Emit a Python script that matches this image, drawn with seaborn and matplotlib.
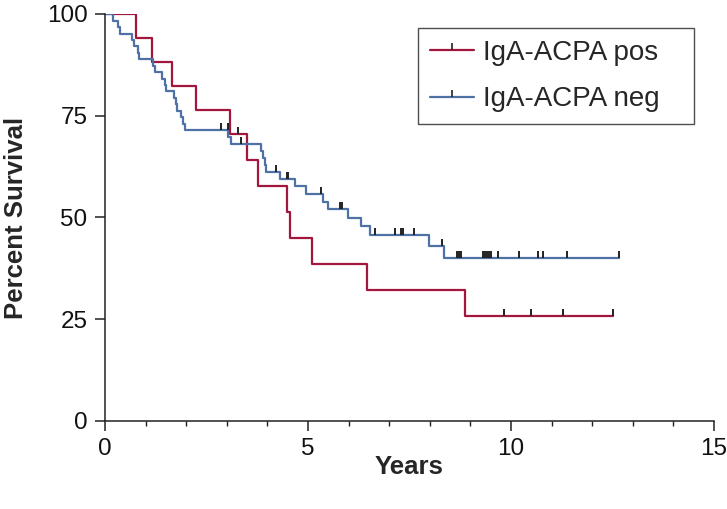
import numpy as np
import pandas as pd
import seaborn as sns
import matplotlib.pyplot as plt
from matplotlib.lines import Line2D
from matplotlib.path import Path

# Kaplan-Meier steps (years, percent surviving after the drop)
pos_times = [0.0, 0.77, 1.16, 1.64, 2.25, 3.07, 3.49, 3.78, 4.49, 4.56, 5.10, 6.45, 8.87, 12.52]
pos_surv = [100.0, 94.1, 88.2, 82.4, 76.5, 70.6, 64.2, 57.8, 51.4, 45.0, 38.6, 32.1, 25.7, 25.7]
pos_censored = [3.28, 9.82, 10.50, 11.28, 12.52]

neg_times = [0.0, 0.19, 0.33, 0.37, 0.67, 0.71, 0.81, 0.85, 1.19, 1.22, 1.41, 1.47, 1.51,
             1.69, 1.74, 1.77, 1.88, 1.92, 1.96, 3.03, 3.11, 3.85, 3.89, 3.93, 3.97, 4.30,
             4.67, 4.96, 5.38, 5.49, 5.99, 6.30, 6.52, 7.98, 8.35, 12.65]
neg_surv = [100.0, 98.4, 96.8, 95.2, 93.7, 92.1, 90.5, 88.9, 87.3, 85.7, 84.1, 82.5, 81.0,
            79.4, 77.8, 76.2, 74.6, 73.0, 71.4, 69.8, 68.1, 66.4, 64.7, 63.0, 61.3, 59.5,
            57.7, 55.8, 53.9, 52.0, 49.9, 47.8, 45.7, 43.0, 40.1, 40.1]
neg_censored = [2.85, 3.02, 3.34, 4.22, 4.49, 4.51, 5.33, 5.80, 5.83, 6.64, 7.14, 7.30,
                7.33, 7.62, 8.29, 8.67, 8.72, 8.77, 9.30, 9.35, 9.40, 9.45, 9.50, 9.67,
                10.20, 10.67, 10.79, 11.37, 12.65]

groups = ['IgA-ACPA pos', 'IgA-ACPA neg']
colors = {'IgA-ACPA pos': '#A3173F', 'IgA-ACPA neg': '#4E72A6'}


def censor_levels(times, surv, cens):
    idx = np.searchsorted(times, cens, side='right') - 1
    return [surv[i] for i in idx]


curves = pd.concat([
    pd.DataFrame({'Years': pos_times, 'Survival': pos_surv, 'group': groups[0]}),
    pd.DataFrame({'Years': neg_times, 'Survival': neg_surv, 'group': groups[1]}),
])
marks = pd.concat([
    pd.DataFrame({'Years': pos_censored,
                  'Survival': censor_levels(pos_times, pos_surv, pos_censored)}),
    pd.DataFrame({'Years': neg_censored,
                  'Survival': censor_levels(neg_times, neg_surv, neg_censored)}),
])

sns.set_style('ticks')
plt.rcParams['font.family'] = ['Liberation Sans', 'DejaVu Sans']

fig = plt.figure(figsize=(7.27, 5.09), dpi=100)
ax = fig.add_axes([0.1444, 0.1729, 0.8377, 0.7996])

# censor mark: short stroke standing on top of the curve
tick = Path([(0, 0), (0, 1)], [Path.MOVETO, Path.LINETO])

for g in groups:
    sub = curves[curves['group'] == g]
    sns.lineplot(data=sub, x='Years', y='Survival', ax=ax, color=colors[g],
                 drawstyle='steps-post', linewidth=1.6, estimator=None, sort=False,
                 legend=False)

sns.scatterplot(data=marks, x='Years', y='Survival', ax=ax, marker=tick, s=100,
                color='k', edgecolor='#222222', linewidth=1.4, legend=False, zorder=3)

ax.set_xlim(0, 15)
ax.set_ylim(0, 100)
ax.set_xticks([0, 5, 10, 15])
ax.set_xticks(np.arange(0, 16), minor=True)
ax.set_yticks([0, 25, 50, 75, 100])
ax.tick_params(axis='both', which='major', length=7.5, width=1.1, labelsize=17.5,
               color='#222222', labelcolor='#111111', pad=5)
ax.tick_params(axis='x', which='minor', length=3.5, width=1.0, color='#222222')
for s in ['left', 'bottom']:
    ax.spines[s].set_linewidth(1.1)
    ax.spines[s].set_color('#222222')
sns.despine(ax=ax)

ax.set_xlabel('Years', fontsize=18.5, fontweight='bold')
ax.set_ylabel('Percent Survival', fontsize=18.5, fontweight='bold')
ax.xaxis.set_label_coords(0.5, -0.083)
ax.yaxis.set_label_coords(-0.127, 0.5)

handles = [Line2D([0], [0], color=colors[g], linewidth=1.6, marker=tick,
                  markersize=10, markeredgecolor='#222222', markeredgewidth=1.2)
           for g in groups]
# legend box spans the same width as in the reference
leg = ax.legend(handles, groups, loc='upper right',
                bbox_to_anchor=(0.514, 0.5, 0.453, 0.466), mode='expand',
                borderaxespad=0, fontsize=20, frameon=True, fancybox=False,
                numpoints=1, handlelength=1.6, handletextpad=0.32, labelspacing=0.75,
                borderpad=0.42)
leg.get_frame().set_edgecolor('#222222')
leg.get_frame().set_linewidth(1.0)

plt.savefig('out.png', dpi=100)
plt.close()
